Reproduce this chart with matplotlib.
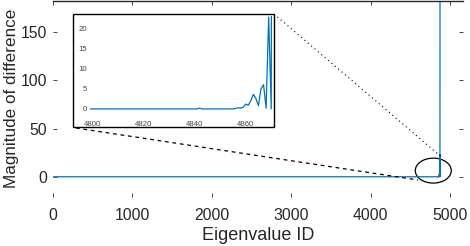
import matplotlib
matplotlib.use("Agg")
import matplotlib.pyplot as plt
from matplotlib.patches import Ellipse, Rectangle
from matplotlib.lines import Line2D

plt.rcParams['font.family'] = ['Liberation Sans', 'DejaVu Sans']

# Data: eigenvalue index (breakpoints of a piecewise line) and magnitude of difference
eig_ids = [1, 4841, 4842, 4843, 4855, 4856, 4857, 4858, 4859, 4860, 4861, 4862,
           4863, 4864, 4865, 4866, 4867, 4868, 4869, 4870, 4871, 4872]
diff_vals = [0, 0, 0.2, 0, 0, 0.1, 0.3, 0.2, 0.4, 1.2, 0.9, 2.0,
             3.6, 2.6, 0.8, 5.0, 6.0, 0.2, 22.7, 0.0, 350, 900]

main_xticks = [0, 1000, 2000, 3000, 4000, 5000]
main_yticks = [0, 50, 100, 150]
inset_xticks = [4800, 4820, 4840, 4860]
inset_yticks = [0, 5, 10, 15, 20]

W, H = 470, 246
fig = plt.figure(figsize=(W / 100, H / 100), dpi=100)

def fx(px):
    return px / W

def fy(py):
    return 1 - py / H

blue = '#0072BD'
txt = '#262626'

# Main axes
ax = fig.add_axes([fx(53), fy(197), fx(463) - fx(53), fy(0.5) - fy(197)])
ax.plot(eig_ids, diff_vals, color=blue, lw=0.9)
ax.set_xlim(0, 5160)
ax.set_ylim(-21, 183)
ax.set_xticks(main_xticks)
ax.set_yticks(main_yticks)
for s in ['left', 'right', 'bottom']:
    ax.spines[s].set_visible(False)
ax.spines['top'].set_color(txt)
ax.spines['top'].set_linewidth(1.0)
ax.tick_params(direction='in', length=3, width=0.6, colors=txt, labelsize=11.3,
               top=True, right=True)
ax.tick_params(axis='x', pad=8)
ax.tick_params(axis='y', pad=4)
ax.set_xlabel('Eigenvalue ID', fontsize=13, color=txt, labelpad=3)
ax.set_ylabel('Magnitude of difference', fontsize=12.3, color=txt)
ax.yaxis.set_label_coords(-0.084, 0.5)

# Ellipse around the zoomed region
ell = Ellipse((4786, 6.4), 453, 25.9, fill=False, edgecolor='black', lw=0.9)
ax.add_patch(ell)

# Inset frame rectangle
rect = Rectangle((fx(73), fy(127)), fx(274) - fx(73), fy(14) - fy(127),
                 transform=fig.transFigure, fill=False, edgecolor='black', lw=1.0,
                 zorder=5)
fig.patches.append(rect)

# Inset axes
ins = fig.add_axes([fx(90), fy(115), fx(272) - fx(90), fy(16) - fy(115)])
ins.plot(eig_ids, diff_vals, color=blue, lw=0.9)
ins.set_xlim(4799.2, 4870.3)
ins.set_ylim(-1.5, 23)
ins.set_xticks(inset_xticks)
ins.set_yticks(inset_yticks)
for s in ins.spines.values():
    s.set_visible(False)
ins.tick_params(length=0, labelsize=5.6, colors='#444444', pad=2)
ins.tick_params(axis='x', pad=4)

# Connector lines
fig.add_artist(Line2D([fx(274), fx(441.5)], [fy(14), fy(157)], transform=fig.transFigure,
                      color='black', lw=0.8, linestyle=(0, (1, 3))))
fig.add_artist(Line2D([fx(76), fx(418)], [fy(128), fy(180)], transform=fig.transFigure,
                      color='black', lw=0.9, linestyle=(0, (3, 3))))

fig.savefig('out.png', dpi=100)
